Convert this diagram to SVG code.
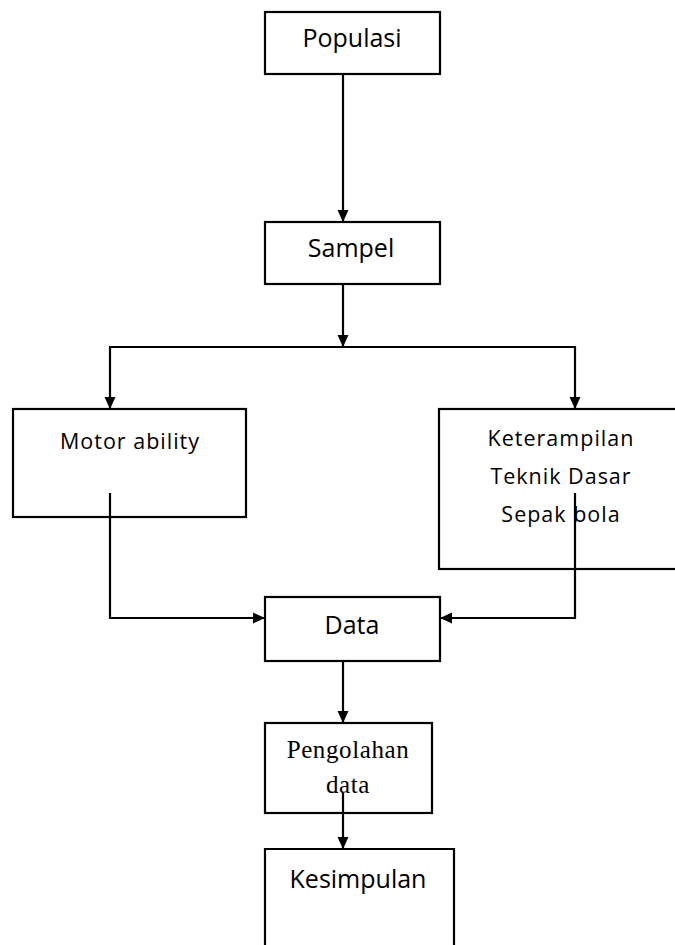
<svg xmlns="http://www.w3.org/2000/svg" width="675" height="945" viewBox="0 0 675 945">
<defs>
<style>
.box{fill:#fff;stroke:#000;stroke-width:2.2}
.ln{fill:none;stroke:#000;stroke-width:2.2}
.t{font-family:"Open Sans","Noto Sans",sans-serif;fill:#000;text-anchor:middle}
.s{font-family:"Liberation Serif","Times New Roman",serif;fill:#000;text-anchor:middle}
</style>
<marker id="ah" markerUnits="userSpaceOnUse" markerWidth="12" markerHeight="12" viewBox="0 0 12 12" refX="12" refY="6" orient="auto">
<path d="M0,0.5 L12,6 L0,11.5 Z" fill="#000"/>
</marker>
</defs>
<rect width="675" height="945" fill="#fff"/>
<g id="populasi">
<rect class="box" x="265" y="12" width="175" height="62"/>
<text class="t" x="352" y="47" font-size="25">Populasi</text>
</g>
<g id="sampel">
<rect class="box" x="265" y="222" width="175" height="62"/>
<text class="t" x="351" y="257" font-size="25">Sampel</text>
</g>
<g id="motor">
<rect class="box" x="13" y="409" width="233" height="108"/>
<text class="t" x="130" y="449" font-size="21.5" letter-spacing="1">Motor ability</text>
</g>
<g id="keterampilan">
<rect class="box" x="439" y="409" width="240" height="160"/>
<text class="t" font-size="21.5" letter-spacing="1"><tspan x="561" y="446">Keterampilan</tspan><tspan x="561" y="484">Teknik Dasar</tspan><tspan x="561" y="522">Sepak bola</tspan></text>
</g>
<g id="data">
<rect class="box" x="265" y="597" width="175" height="64"/>
<text class="t" x="352" y="634" font-size="25">Data</text>
</g>
<g id="pengolahan">
<rect class="box" x="265" y="723" width="167" height="90"/>
<text class="s" font-size="25" letter-spacing="0.6"><tspan x="348" y="758">Pengolahan</tspan><tspan x="348" y="793">data</tspan></text>
</g>
<g id="kesimpulan">
<path class="box" d="M265,950 L265,849 L454,849 L454,950"/>
<text class="t" x="358" y="888" font-size="25">Kesimpulan</text>
</g>
<g id="connectors">
<line class="ln" x1="343" y1="74" x2="343" y2="222" marker-end="url(#ah)"/>
<line class="ln" x1="343" y1="284" x2="343" y2="347" marker-end="url(#ah)"/>
<line class="ln" x1="110" y1="347" x2="575" y2="347"/>
<line class="ln" x1="110" y1="346" x2="110" y2="409" marker-end="url(#ah)"/>
<line class="ln" x1="575" y1="346" x2="575" y2="409" marker-end="url(#ah)"/>
<polyline class="ln" points="110,493 110,618 265,618" marker-end="url(#ah)"/>
<polyline class="ln" points="575,493 575,618 440,618" marker-end="url(#ah)"/>
<line class="ln" x1="343" y1="661" x2="343" y2="723" marker-end="url(#ah)"/>
<line class="ln" x1="343" y1="793" x2="343" y2="849" marker-end="url(#ah)"/>
</g>
</svg>
